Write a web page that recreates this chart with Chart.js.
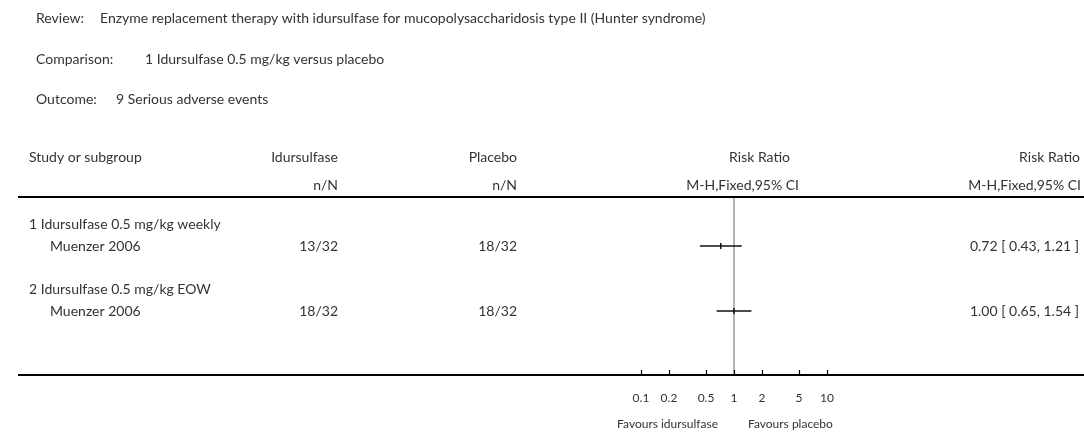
<!DOCTYPE html>
<html>
<head>
<meta charset="utf-8">
<script src="https://cdn.jsdelivr.net/npm/chart.js@4.4.1/dist/chart.umd.min.js"></script>
<style>
  html, body { margin: 0; padding: 0; background: #fff; }
  #wrap { position: relative; width: 1084px; height: 432px; }
</style>
</head>
<body>
<div id="wrap"><canvas id="forest" width="1084" height="432"></canvas></div>
<script>
// data
const subgroups = ['1 Idursulfase 0.5 mg/kg weekly', '2 Idursulfase 0.5 mg/kg EOW'];
const studies = ['Muenzer 2006', 'Muenzer 2006'];
const idursulfase = ['13/32', '18/32'];
const placebo = ['18/32', '18/32'];
const riskRatio = [0.72, 1.00];
const lower = [0.43, 0.65];
const upper = [1.21, 1.54];
const ciText = ['0.72 [ 0.43, 1.21 ]', '1.00 [ 0.65, 1.54 ]'];
const tickValues = [0.1, 0.2, 0.5, 1, 2, 5, 10];
const tickLabels = ['0.1', '0.2', '0.5', '1', '2', '5', '10'];

// rows: subgroup header, then study line
const subgroupRows = [1, 4];
const studyRows = [2, 5];

const FONT = '14px Lato, "Open Sans", sans-serif';
const TEXT = '#333';

const datasets = [];
studies.forEach((s, i) => {
  datasets.push({
    type: 'line',
    data: [{ x: lower[i], y: studyRows[i] }, { x: upper[i], y: studyRows[i] }],
    borderColor: '#111',
    borderWidth: 1.5,
    pointRadius: 0
  });
  datasets.push({
    type: 'scatter',
    data: [{ x: riskRatio[i], y: studyRows[i] }],
    pointStyle: 'line',
    rotation: 90,
    radius: 3,
    borderColor: '#111',
    borderWidth: 1.5
  });
});
// line of no effect
datasets.push({
  type: 'line',
  data: [{ x: 1, y: -0.26 }, { x: 1, y: 7.95 }],
  borderColor: '#9a9a9a',
  borderWidth: 1.5,
  pointRadius: 0
});

const textPlugin = {
  id: 'forestText',
  afterDraw(chart) {
    const ctx = chart.ctx;
    const xs = chart.scales.x, ys = chart.scales.y;
    const area = chart.chartArea;
    ctx.save();
    ctx.font = FONT;
    ctx.fillStyle = TEXT;
    ctx.textBaseline = 'middle';

    function txt(s, x, y, align) {
      ctx.textAlign = align || 'left';
      ctx.fillText(s, x, y);
    }

    txt('Review:', 36, 18);
    txt('Enzyme replacement therapy with idursulfase for mucopolysaccharidosis type II (Hunter syndrome)', 100, 18);
    txt('Comparison:', 36, 59);
    txt('1 Idursulfase 0.5 mg/kg versus placebo', 145, 59);
    txt('Outcome:', 36, 99);
    txt('9 Serious adverse events', 116, 99);

    txt('Study or subgroup', 29, 157);
    txt('Idursulfase', 338, 157, 'right');
    txt('n/N', 338, 185, 'right');
    txt('Placebo', 517, 157, 'right');
    txt('n/N', 517, 185, 'right');
    txt('Risk Ratio', 790, 157, 'right');
    txt('M-H,Fixed,95% CI', 799, 185, 'right');
    txt('Risk Ratio', 1080, 157, 'right');
    txt('M-H,Fixed,95% CI', 1081, 185, 'right');

    subgroups.forEach((g, i) => txt(g, 29, ys.getPixelForValue(subgroupRows[i])));
    studies.forEach((s, i) => {
      const y = ys.getPixelForValue(studyRows[i]);
      txt(s, 50, y);
      txt(idursulfase[i], 338, y, 'right');
      txt(placebo[i], 517, y, 'right');
      txt(ciText[i], 1079, y, 'right');
    });

    // rules
    ctx.strokeStyle = '#000';
    ctx.lineWidth = 2;
    ctx.beginPath();
    ctx.moveTo(18, area.top); ctx.lineTo(1084, area.top);
    ctx.moveTo(18, area.bottom); ctx.lineTo(1084, area.bottom);
    ctx.stroke();

    // ticks on the log axis
    ctx.lineWidth = 1.2;
    ctx.beginPath();
    tickValues.forEach(v => {
      const x = Math.round(xs.getPixelForValue(v)) + 0.5;
      ctx.moveTo(x, area.bottom);
      ctx.lineTo(x, area.bottom - 5);
    });
    ctx.stroke();
    ctx.font = '12px Lato, "Open Sans", sans-serif';
    tickValues.forEach((v, i) => txt(tickLabels[i], xs.getPixelForValue(v), 398, 'center'));
    txt('Favours idursulfase', 718, 424, 'right');
    txt('Favours placebo', 748, 424);
    ctx.restore();
  }
};

new Chart(document.getElementById('forest'), {
  data: { datasets: datasets },
  options: {
    responsive: false,
    animation: false,
    layout: { padding: { left: 548, right: 164, top: 197, bottom: 57 } },
    scales: {
      x: { type: 'logarithmic', min: 0.01, max: 100, display: false },
      y: { type: 'linear', min: -0.26, max: 7.95, reverse: true, display: false }
    },
    plugins: { legend: { display: false }, tooltip: { enabled: false } }
  },
  plugins: [textPlugin]
});
</script>
</body>
</html>
